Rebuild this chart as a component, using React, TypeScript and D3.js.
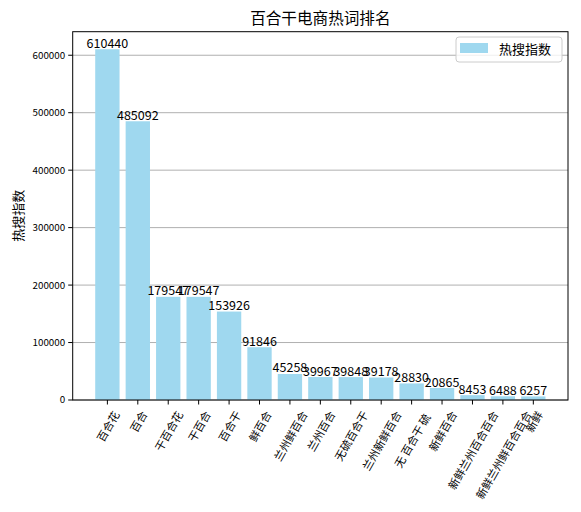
import React from "react";
import * as d3 from "d3";

const categories: string[] = [
  "百合花", "百合", "干百合花", "干百合", "百合干", "鲜百合", "兰州鲜百合", "兰州百合",
  "无硫百合干", "兰州新鲜百合", "无 百合干 硫", "新鲜百合", "新鲜兰州百合百合", "新鲜兰州鲜百合百合", "新鲜",
];
const values: number[] = [
  610440, 485092, 179547, 179547, 153926, 91846, 45258, 39967, 39848, 39178, 28830, 20865, 8453, 6488, 6257,
];
const yTicks: number[] = [0, 100000, 200000, 300000, 400000, 500000, 600000];
const title = "百合干电商热词排名";
const seriesName = "热搜指数";
const yLabel = "热搜指数";

const W = 581, H = 512;
const L = 72.7, R = 568, T = 31.7, B = 400;
const FONT = "'Noto Sans CJK SC', 'Noto Sans', sans-serif";
const BAR = "#9FD8EF";

function textWidth(s: string, fs: number) {
  let w = 0;
  for (const ch of s) w += ch === " " ? fs * 0.5 : /[\u4e00-\u9fff]/.test(ch) ? fs : fs * 0.55;
  return w;
}

export default function App() {
  const n = categories.length;
  const bw = 0.8;
  const margin = 0.05 * (n - 1 + bw);
  const x = d3.scaleLinear().domain([-bw / 2 - margin, n - 1 + bw / 2 + margin]).range([L, R]);
  const yMax = d3.max(values)! * 1.05;
  const y = d3.scaleLinear().domain([0, yMax]).range([B, T]);
  const unit = x(1) - x(0);

  const xfs = 11;
  const sin60 = Math.sin(Math.PI / 3), cos60 = 0.5;
  const labelTop = B + 4.5 + 4.5;

  return (
    <svg width={W} height={H} style={{ position: "absolute", left: 0, top: 0, background: "#fff" }} fontFamily={FONT}>
      <rect x={0} y={0} width={W} height={H} fill="#fff" />
      {/* grid */}
      {yTicks.map((t) => (
        <line key={"g" + t} x1={L} x2={R} y1={y(t)} y2={y(t)} stroke="#b0b0b0" strokeWidth={1} />
      ))}
      {/* bars */}
      {values.map((v, i) => (
        <rect key={"b" + i} x={x(i) - (bw / 2) * unit} width={bw * unit} y={y(v)} height={B - y(v)} fill={BAR} />
      ))}
      {/* value labels */}
      {values.map((v, i) => (
        <text key={"v" + i} x={x(i)} y={y(v) - 1.5} textAnchor="middle" fontSize={12.5} fill="#000">
          {v}
        </text>
      ))}
      {/* spines */}
      <rect x={L} y={T} width={R - L} height={B - T} fill="none" stroke="#000" strokeWidth={1} />
      {/* y ticks */}
      {yTicks.map((t) => (
        <g key={"yt" + t}>
          <line x1={L - 4.5} x2={L} y1={y(t)} y2={y(t)} stroke="#000" strokeWidth={1} />
          <text x={L - 7.5} y={y(t)} dy="0.35em" textAnchor="end" fontSize={9.8} fill="#000">
            {t}
          </text>
        </g>
      ))}
      {/* x ticks */}
      {categories.map((c, i) => {
        const w = textWidth(c, xfs);
        const bh = w * sin60 + xfs * cos60;
        const cy = labelTop + bh / 2;
        return (
          <g key={"xt" + i}>
            <line x1={x(i)} x2={x(i)} y1={B} y2={B + 4.5} stroke="#000" strokeWidth={1} />
            <text
              transform={`translate(${x(i)},${cy}) rotate(-60)`}
              textAnchor="middle"
              dominantBaseline="central"
              fontSize={xfs}
              fill="#000"
              style={{ whiteSpace: "pre" }}
            >
              {c}
            </text>
          </g>
        );
      })}
      {/* y label */}
      <text transform={`translate(17,${(T + B) / 2}) rotate(-90)`} textAnchor="middle" dominantBaseline="central" fontSize={13} fill="#000">
        {yLabel}
      </text>
      {/* title */}
      <text x={(L + R) / 2} y={24} textAnchor="middle" fontSize={15.6} fill="#000">
        {title}
      </text>
      {/* legend */}
      <g>
        <rect x={456} y={37} width={106} height={25} rx={3} fill="#fff" fillOpacity={0.8} stroke="#cccccc" strokeWidth={1} />
        <rect x={460} y={43} width={28} height={10} fill={BAR} />
        <text x={499} y={48} dominantBaseline="central" fontSize={13} fill="#000">
          {seriesName}
        </text>
      </g>
    </svg>
  );
}
